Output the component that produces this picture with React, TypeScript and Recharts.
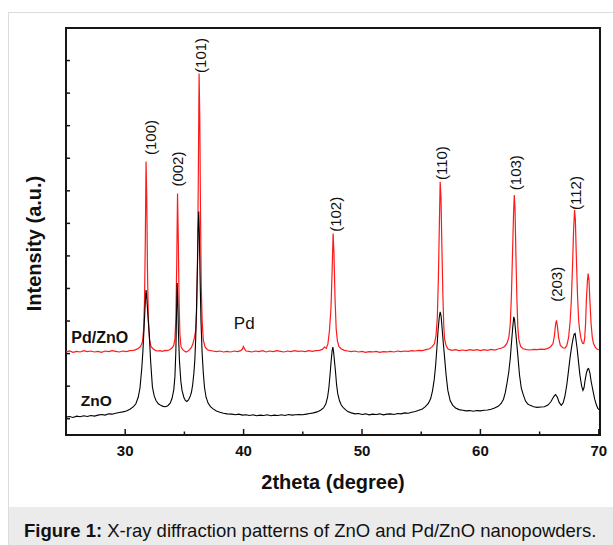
import React from "react";
import {
  Label,
  Line,
  LineChart,
  ReferenceArea,
  ReferenceDot,
  XAxis,
  YAxis,
} from "recharts";

// XRD scans: [2theta (deg), intensity (a.u., one unit per y tick)]
const znoPattern: [number, number][] = [
  [25.0, 0.05], [25.3, 0.07], [25.6, 0.04], [25.9, 0.08], [26.2, 0.06], [26.5, 0.09],
  [26.8, 0.07], [27.1, 0.1], [27.4, 0.08], [27.7, 0.11], [28.0, 0.13], [28.3, 0.11],
  [28.6, 0.15], [28.9, 0.14], [29.2, 0.17], [29.5, 0.19], [29.8, 0.21], [30.1, 0.24],
  [30.4, 0.29], [30.7, 0.37], [30.9, 0.46], [31.1, 0.66], [31.25, 0.95], [31.4, 1.55],
  [31.5, 2.1], [31.6, 2.85], [31.7, 3.6], [31.76, 3.95], [31.8, 3.82], [31.86, 3.5],
  [31.95, 3.0], [32.03, 2.6], [32.15, 1.75], [32.3, 0.97], [32.45, 0.7], [32.6, 0.56],
  [32.8, 0.46], [33.0, 0.41], [33.2, 0.38], [33.4, 0.37], [33.6, 0.4], [33.8, 0.48],
  [33.95, 0.62], [34.1, 0.88], [34.2, 1.3], [34.28, 2.1], [34.34, 3.3], [34.39, 4.17],
  [34.44, 3.6], [34.5, 2.6], [34.58, 1.79], [34.7, 1.15], [34.8, 0.87], [34.95, 0.66],
  [35.08, 0.56], [35.2, 0.53], [35.35, 0.58], [35.5, 0.7], [35.6, 0.82], [35.7, 1.05],
  [35.8, 1.4], [35.88, 1.8], [35.96, 2.5], [36.03, 3.5], [36.1, 4.7], [36.16, 5.8],
  [36.21, 6.36], [36.26, 5.7], [36.32, 4.4], [36.4, 3.0], [36.5, 2.0], [36.6, 1.39],
  [36.7, 0.95], [36.83, 0.66], [37.0, 0.48], [37.2, 0.37], [37.4, 0.31], [37.7, 0.24],
  [38.0, 0.2], [38.3, 0.17], [38.6, 0.15], [39.0, 0.14], [39.3, 0.12], [39.6, 0.14],
  [39.9, 0.11], [40.2, 0.12], [40.5, 0.1], [40.8, 0.12], [41.1, 0.09], [41.4, 0.11],
  [41.7, 0.1], [42.0, 0.12], [42.3, 0.09], [42.6, 0.11], [42.9, 0.1], [43.2, 0.12],
  [43.5, 0.1], [43.8, 0.13], [44.1, 0.11], [44.4, 0.12], [44.7, 0.13], [45.0, 0.12],
  [45.3, 0.14], [45.6, 0.16], [45.9, 0.18], [46.2, 0.21], [46.5, 0.26], [46.75, 0.33],
  [46.95, 0.46], [47.1, 0.68], [47.2, 0.95], [47.3, 1.35], [47.4, 1.8], [47.48, 2.1],
  [47.54, 2.2], [47.6, 2.05], [47.68, 1.75], [47.76, 1.45], [47.85, 1.05], [47.95, 0.77],
  [48.1, 0.55], [48.25, 0.42], [48.4, 0.35], [48.6, 0.28], [48.8, 0.22], [49.1, 0.18],
  [49.4, 0.15], [49.7, 0.16], [50.0, 0.13], [50.3, 0.15], [50.6, 0.12], [50.9, 0.14],
  [51.2, 0.13], [51.5, 0.15], [51.8, 0.12], [52.1, 0.14], [52.4, 0.15], [52.7, 0.13],
  [53.0, 0.16], [53.3, 0.15], [53.6, 0.18], [53.9, 0.17], [54.2, 0.2], [54.5, 0.22],
  [54.8, 0.26], [55.1, 0.3], [55.35, 0.37], [55.6, 0.47], [55.8, 0.62], [55.95, 0.85],
  [56.1, 1.2], [56.22, 1.65], [56.32, 2.15], [56.42, 2.7], [56.52, 3.1], [56.6, 3.28],
  [56.68, 3.15], [56.76, 2.8], [56.86, 2.35], [56.97, 1.9], [57.1, 1.35], [57.25, 0.87],
  [57.45, 0.55], [57.67, 0.41], [57.9, 0.33], [58.2, 0.28], [58.5, 0.26], [58.8, 0.24],
  [59.1, 0.25], [59.4, 0.23], [59.7, 0.25], [60.0, 0.24], [60.3, 0.26], [60.6, 0.27],
  [60.9, 0.29], [61.2, 0.33], [61.5, 0.38], [61.75, 0.47], [61.95, 0.6], [62.1, 0.8],
  [62.25, 1.1], [62.4, 1.45], [62.52, 1.85], [62.64, 2.4], [62.74, 2.85], [62.82, 3.13],
  [62.88, 3.05], [62.96, 2.75], [63.06, 2.35], [63.17, 1.9], [63.3, 1.35], [63.45, 0.95],
  [63.59, 0.77], [63.8, 0.55], [64.0, 0.45], [64.2, 0.41], [64.5, 0.37], [64.8, 0.35],
  [65.1, 0.36], [65.4, 0.37], [65.7, 0.42], [65.95, 0.52], [66.1, 0.62], [66.25, 0.71],
  [66.35, 0.74], [66.5, 0.66], [66.65, 0.5], [66.83, 0.41], [67.0, 0.5], [67.15, 0.72],
  [67.3, 1.05], [67.45, 1.5], [67.58, 1.9], [67.7, 2.2], [67.82, 2.45], [67.92, 2.6],
  [68.0, 2.62], [68.08, 2.4], [68.17, 2.15], [68.27, 1.8], [68.4, 1.35], [68.55, 1.0],
  [68.66, 0.87], [68.75, 0.95], [68.85, 1.2], [68.95, 1.4], [69.05, 1.52], [69.14, 1.54],
  [69.25, 1.4], [69.35, 1.15], [69.5, 0.87], [69.65, 0.6], [69.8, 0.42], [69.93, 0.31],
  [70.05, 0.27],
];

const pdZnoPattern: [number, number][] = [
  [25.0, 2.05], [25.3, 2.08], [25.6, 2.04], [25.9, 2.07], [26.2, 2.05], [26.5, 2.09],
  [26.8, 2.06], [27.1, 2.08], [27.4, 2.05], [27.7, 2.07], [28.0, 2.04], [28.3, 2.08],
  [28.6, 2.06], [28.9, 2.09], [29.2, 2.07], [29.5, 2.05], [29.8, 2.08], [30.1, 2.06],
  [30.4, 2.09], [30.7, 2.1], [30.95, 2.13], [31.15, 2.17], [31.3, 2.22], [31.45, 2.35],
  [31.55, 2.7], [31.63, 3.6], [31.7, 5.5], [31.76, 7.9], [31.82, 6.8], [31.88, 4.6],
  [31.95, 3.1], [32.05, 2.45], [32.17, 2.22], [32.35, 2.15], [32.55, 2.1], [32.75, 2.08],
  [32.95, 2.09], [33.15, 2.07], [33.35, 2.1], [33.55, 2.09], [33.75, 2.12], [33.95, 2.17],
  [34.1, 2.25], [34.2, 2.45], [34.28, 3.1], [34.35, 4.7], [34.42, 6.92], [34.48, 5.6],
  [34.55, 3.6], [34.62, 2.6], [34.71, 2.22], [34.85, 2.12], [35.0, 2.08], [35.14, 2.05],
  [35.3, 2.08], [35.45, 2.12], [35.6, 2.2], [35.72, 2.3], [35.85, 2.5], [35.95, 2.7],
  [36.03, 3.3], [36.1, 4.6], [36.17, 7.2], [36.24, 10.6], [36.3, 9.2], [36.36, 6.3],
  [36.42, 4.1], [36.5, 3.0], [36.6, 2.41], [36.75, 2.2], [36.95, 2.12], [37.1, 2.1],
  [37.4, 2.08], [37.7, 2.06], [38.0, 2.08], [38.3, 2.05], [38.6, 2.07], [38.9, 2.05],
  [39.2, 2.08], [39.5, 2.06], [39.75, 2.09], [39.9, 2.14], [39.98, 2.22], [40.06, 2.16],
  [40.2, 2.08], [40.45, 2.07], [40.7, 2.05], [41.0, 2.08], [41.3, 2.06], [41.6, 2.09],
  [41.9, 2.05], [42.2, 2.08], [42.5, 2.06], [42.8, 2.09], [43.1, 2.07], [43.4, 2.05],
  [43.7, 2.08], [44.0, 2.06], [44.3, 2.09], [44.6, 2.07], [44.9, 2.08], [45.2, 2.06],
  [45.5, 2.09], [45.8, 2.07], [46.1, 2.09], [46.4, 2.1], [46.65, 2.13], [46.83, 2.2],
  [46.98, 2.16], [47.12, 2.3], [47.25, 2.7], [47.38, 3.4], [47.48, 4.6], [47.56, 5.69],
  [47.63, 5.1], [47.72, 3.7], [47.82, 2.75], [47.92, 2.4], [48.05, 2.22], [48.23, 2.15],
  [48.5, 2.1], [48.8, 2.08], [49.1, 2.06], [49.4, 2.08], [49.7, 2.05], [50.0, 2.07],
  [50.3, 2.04], [50.6, 2.06], [50.9, 2.05], [51.2, 2.07], [51.5, 2.04], [51.8, 2.06],
  [52.1, 2.05], [52.4, 2.07], [52.7, 2.05], [53.0, 2.08], [53.3, 2.06], [53.6, 2.08],
  [53.9, 2.07], [54.2, 2.09], [54.5, 2.08], [54.8, 2.1], [55.1, 2.09], [55.4, 2.12],
  [55.7, 2.15], [55.95, 2.22], [56.12, 2.31], [56.25, 2.55], [56.36, 3.1], [56.45, 4.3],
  [56.53, 5.9], [56.6, 7.28], [56.67, 6.8], [56.75, 5.2], [56.83, 3.8], [56.9, 2.9],
  [56.97, 2.45], [57.1, 2.25], [57.25, 2.15], [57.39, 2.12], [57.6, 2.1], [57.9, 2.12],
  [58.2, 2.09], [58.5, 2.11], [58.8, 2.09], [59.1, 2.12], [59.4, 2.1], [59.7, 2.12],
  [60.0, 2.09], [60.3, 2.12], [60.6, 2.1], [60.9, 2.13], [61.2, 2.11], [61.5, 2.14],
  [61.8, 2.17], [62.05, 2.22], [62.25, 2.32], [62.4, 2.5], [62.52, 2.9], [62.62, 3.8],
  [62.72, 5.2], [62.8, 6.3], [62.86, 6.87], [62.92, 6.5], [63.0, 5.0], [63.08, 3.7],
  [63.16, 2.8], [63.25, 2.41], [63.4, 2.22], [63.6, 2.15], [63.9, 2.12], [64.2, 2.11],
  [64.5, 2.13], [64.8, 2.12], [65.1, 2.14], [65.4, 2.13], [65.7, 2.16], [65.95, 2.22],
  [66.13, 2.31], [66.25, 2.55], [66.35, 2.9], [66.42, 3.02], [66.5, 2.85], [66.6, 2.5],
  [66.75, 2.25], [66.95, 2.18], [67.15, 2.17], [67.3, 2.25], [67.45, 2.5], [67.58, 3.0],
  [67.68, 3.64], [67.78, 4.7], [67.87, 5.8], [67.95, 6.41], [68.02, 6.1], [68.1, 5.0],
  [68.2, 3.8], [68.3, 3.0], [68.38, 2.72], [68.5, 2.45], [68.62, 2.32], [68.72, 2.31],
  [68.8, 2.45], [68.88, 2.9], [68.95, 3.64], [69.03, 4.2], [69.1, 4.46], [69.17, 4.25],
  [69.25, 3.6], [69.35, 2.9], [69.45, 2.5], [69.55, 2.31], [69.7, 2.2], [69.85, 2.14],
  [70.0, 2.12],
];

// Miller-index labels, anchored where each rotated label starts (its lower end)
const peakNames = ["(100)", "(002)", "(101)", "(102)", "(110)", "(103)", "(203)", "(112)"];
const peakTheta = [32.15, 34.43, 36.38, 47.74, 56.68, 62.96, 66.42, 68.02];
const peakLabelIntensity = [8.1, 7.13, 10.62, 5.74, 7.33, 7.02, 3.59, 6.41];

const thetaTicks = [30, 35, 40, 45, 50, 55, 60, 65, 70];
const intensityTicks = [0, 1, 2, 3, 4, 5, 6, 7, 8, 9, 10, 11];

const FONT = "'Liberation Sans', Arial, Helvetica, sans-serif";
const AXIS = "#161616";

const znoData = znoPattern.map(([theta, intensity]) => ({ theta, intensity }));
const pdZnoData = pdZnoPattern.map(([theta, intensity]) => ({ theta, intensity }));

function ThetaTick(props: any) {
  const { x, y, payload } = props;
  const major = payload.value % 10 === 0;
  return (
    <g>
      <line x1={x} x2={x} y1={y} y2={y - (major ? 6 : 3.5)} stroke={AXIS} strokeWidth={1.5} />
      {major && (
        <text x={x} y={y + 21} textAnchor="middle" fontFamily={FONT} fontSize={15} fontWeight="bold" fill="#111">
          {payload.value}
        </text>
      )}
    </g>
  );
}

function IntensityTick(props: any) {
  const { x, y } = props;
  return <line x1={x} x2={x + 4} y1={y} y2={y} stroke={AXIS} strokeWidth={1.5} />;
}

export default function App() {
  return (
    <div style={{ position: "absolute", left: 8, top: 12, width: 605, height: 533, fontFamily: FONT }}>
      <div
        style={{
          position: "absolute",
          left: 0,
          top: 0,
          width: 605,
          height: 533,
          borderLeft: "1px solid #dcdcdc",
          borderTop: "1px solid #dcdcdc",
          boxSizing: "border-box",
        }}
      />
      <div style={{ position: "absolute", left: 0, top: 0 }}>
        <LineChart width={605} height={495} margin={{ top: 16, right: 13, bottom: 0, left: 0 }}>
          <XAxis
            dataKey="theta"
            type="number"
            domain={[25, 70.1]}
            ticks={thetaTicks}
            interval={0}
            allowDataOverflow
            axisLine={false}
            tickLine={false}
            tickSize={0}
            tickMargin={0}
            tick={<ThetaTick />}
            height={72}
          >
            <Label
              content={(p: any) => (
                <text
                  x={p.viewBox.x + p.viewBox.width / 2}
                  y={p.viewBox.y + 54}
                  textAnchor="middle"
                  fontFamily={FONT}
                  fontSize={20}
                  fontWeight="bold"
                  fill="#111"
                >
                  2theta (degree)
                </text>
              )}
            />
          </XAxis>
          <YAxis
            type="number"
            domain={[-0.5, 12]}
            ticks={intensityTicks}
            interval={0}
            allowDataOverflow
            axisLine={false}
            tickLine={false}
            tickSize={0}
            tickMargin={0}
            tick={<IntensityTick />}
            width={58}
          >
            <Label
              content={(p: any) => {
                const cx = p.viewBox.x + 26;
                const cy = p.viewBox.y + p.viewBox.height / 2 + 12;
                return (
                  <text
                    x={cx}
                    y={cy}
                    transform={`rotate(-90 ${cx} ${cy})`}
                    textAnchor="middle"
                    dominantBaseline="central"
                    fontFamily={FONT}
                    fontSize={20}
                    fontWeight="bold"
                    fill="#111"
                  >
                    Intensity (a.u.)
                  </text>
                );
              }}
            />
          </YAxis>
          <Line
            data={pdZnoData}
            dataKey="intensity"
            type="linear"
            stroke="#ff1a1a"
            strokeWidth={1.2}
            dot={false}
            isAnimationActive={false}
          />
          <Line
            data={znoData}
            dataKey="intensity"
            type="linear"
            stroke="#000"
            strokeWidth={1.1}
            dot={false}
            isAnimationActive={false}
          />
          {peakNames.map((name, i) => (
            <ReferenceDot
              key={name}
              x={peakTheta[i]}
              y={peakLabelIntensity[i]}
              r={0}
              shape={(p: any) => (
                <text
                  x={p.cx}
                  y={p.cy}
                  transform={`rotate(-90 ${p.cx} ${p.cy})`}
                  textAnchor="start"
                  dominantBaseline="central"
                  fontFamily={FONT}
                  fontSize={15}
                  fill="#111"
                >
                  {name}
                </text>
              )}
            />
          ))}
          <ReferenceDot
            x={40.05}
            y={2.75}
            r={0}
            shape={(p: any) => (
              <text x={p.cx} y={p.cy} textAnchor="middle" fontFamily={FONT} fontSize={17} fill="#111">
                Pd
              </text>
            )}
          />
          <ReferenceDot
            x={25.45}
            y={2.33}
            r={0}
            shape={(p: any) => (
              <text x={p.cx} y={p.cy} fontFamily={FONT} fontSize={16} fontWeight="bold" fill="#111">
                Pd/ZnO
              </text>
            )}
          />
          <ReferenceDot
            x={26.25}
            y={0.4}
            r={0}
            shape={(p: any) => (
              <text x={p.cx} y={p.cy} fontFamily={FONT} fontSize={15.5} fontWeight="bold" fill="#111">
                ZnO
              </text>
            )}
          />
          <ReferenceArea x1={25} x2={70.1} y1={-0.5} y2={12} fill="none" stroke={AXIS} strokeWidth={2} />
        </LineChart>
      </div>
      <div
        style={{
          position: "absolute",
          left: 1,
          top: 495,
          width: 604,
          height: 50,
          background: "#ebebeb",
          boxSizing: "border-box",
          padding: "13px 0 0 15px",
          fontSize: 18.5,
          color: "#111",
          whiteSpace: "nowrap",
        }}
      >
        <b>Figure 1:</b> X-ray diffraction patterns of ZnO and Pd/ZnO nanopowders.
      </div>
    </div>
  );
}
